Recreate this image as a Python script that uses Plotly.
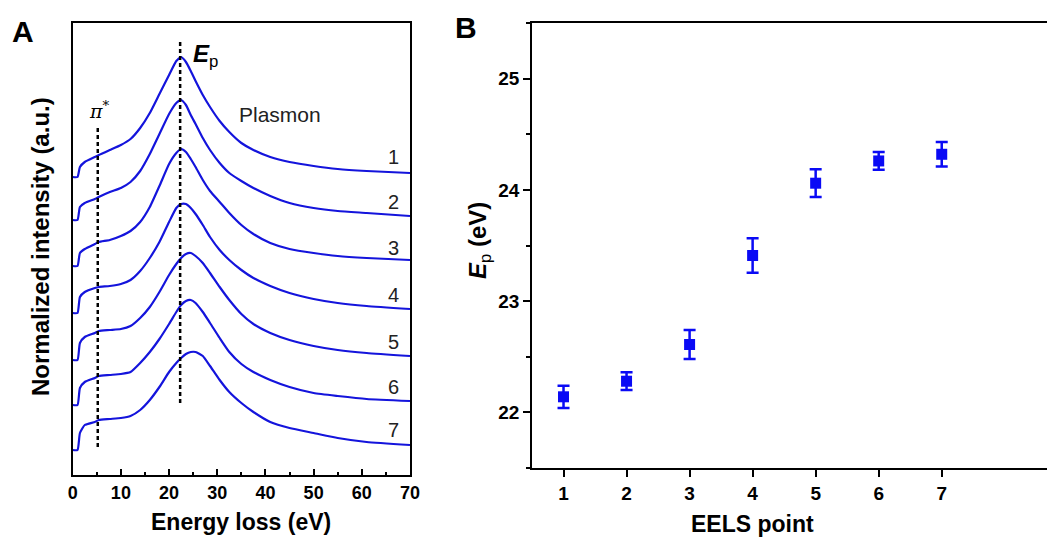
import plotly.graph_objects as go

# ---------------- Panel A data (EELS spectra, offset-stacked, a.u.) ----------------
energy = [0, 1.0, 1.5, 2.5, 4.6, 5.4, 7.7, 10, 12, 14, 16, 18, 20, 21.5, 22.5,
          23.5, 24.5, 25.5, 27, 28.5, 30.5, 32.5, 35, 37.5, 41, 45, 50, 55, 61, 70]
spec1 = [303, 303, 313, 318, 323, 325, 330, 335, 341, 352, 367, 386, 405, 419, 423,
         418, 409, 399, 385, 373, 359, 348, 337, 330, 323, 318, 314, 311, 309, 307]
spec2 = [260, 260, 273, 277, 281, 283, 288, 292, 298, 309, 326, 346, 366, 377, 380,
         375, 365, 356, 342, 330, 317, 307, 299, 292, 284, 277, 272, 269, 267, 264]
spec3 = [214, 214, 227, 231, 236, 238, 240, 244, 249, 258, 273, 294, 316, 327, 331,
         328, 321, 313, 300, 289, 278, 267, 255, 246, 237, 231, 227, 224, 222, 220]
spec4 = [167, 167, 183, 188, 192, 193, 194, 196, 200, 209, 222, 238, 258, 272, 276,
         276, 272, 266, 255, 243, 230, 220, 210, 202, 194, 187, 181, 177, 174, 171]
spec5 = [120, 120, 137, 143, 147, 149, 150, 151, 154, 162, 173, 188, 205, 216, 222,
         226, 227, 224, 217, 207, 193, 180, 166, 156, 147, 140, 134, 130, 127, 124]
spec6 = [75, 75, 92, 98, 102, 104, 105, 106, 108, 117, 128, 141, 156, 168, 175,
         179, 180, 177, 168, 157, 142, 128, 116, 108, 100, 93, 87, 84, 81, 79]
spec7 = [30, 30, 47, 55, 58, 60, 61, 62, 64, 70, 80, 93, 108, 117, 122,
         126, 128, 128, 124, 114, 100, 88, 77, 68, 58, 52, 47, 42, 38, 35]
spectra = [spec1, spec2, spec3, spec4, spec5, spec6, spec7]
spec_labels = ["1", "2", "3", "4", "5", "6", "7"]
label_energy = 66.5
label_levels = [323, 278, 232, 185, 138, 93, 50]

pi_star_energy = 5.2
pi_star_span = [33, 353]
ep_energy = 22.3
ep_span = [77, 440]

xA_ticks = [0, 10, 20, 30, 40, 50, 60, 70]

# ---------------- Panel B data ----------------
eels_point = [1, 2, 3, 4, 5, 6, 7]
ep_values = [22.14, 22.28, 22.61, 23.41, 24.06, 24.26, 24.32]
ep_errors = [0.10, 0.08, 0.13, 0.155, 0.125, 0.08, 0.11]
yB_ticks = [22, 23, 24, 25]

LINE_BLUE = "#1414dc"
MARK_BLUE = "#0a0af5"
FONT = "Liberation Sans, Arial, sans-serif"
W, H = 1047, 540

fig = go.Figure()

for s in spectra:
    fig.add_trace(go.Scatter(x=energy, y=s, mode="lines",
                             line=dict(color=LINE_BLUE, width=2.2, shape="spline", smoothing=0.5),
                             xaxis="x", yaxis="y", showlegend=False, hoverinfo="skip"))

# dashed guide lines
fig.add_trace(go.Scatter(x=[pi_star_energy, pi_star_energy], y=pi_star_span, mode="lines",
                         line=dict(color="black", width=2.5, dash="4px,3px"),
                         xaxis="x", yaxis="y", showlegend=False))
fig.add_trace(go.Scatter(x=[ep_energy, ep_energy], y=ep_span, mode="lines",
                         line=dict(color="black", width=2.5, dash="4px,3px"),
                         xaxis="x", yaxis="y", showlegend=False))

# Panel B
fig.add_trace(go.Scatter(x=eels_point, y=ep_values, mode="markers",
                         marker=dict(symbol="square", size=11, color=MARK_BLUE),
                         error_y=dict(type="data", array=ep_errors, color=MARK_BLUE,
                                      thickness=2.5, width=6),
                         xaxis="x2", yaxis="y2", showlegend=False))

annotations = []
for lab, lv in zip(spec_labels, label_levels):
    annotations.append(dict(x=label_energy, y=lv, xref="x", yref="y", text=lab,
                            showarrow=False, font=dict(family=FONT, size=20, color="#222")))
annotations += [
    dict(x=43, y=366, xref="x", yref="y", text="Plasmon", showarrow=False,
         font=dict(family=FONT, size=21, color="#222")),
    dict(x=5.6, y=370, xref="x", yref="y", text="<i>π</i><sup>*</sup>", showarrow=False,
         font=dict(family="DejaVu Serif, serif", size=19, color="black")),
    dict(x=24.6, y=425, xref="x", yref="y", text="<b><i>E</i></b><sub>p</sub>", showarrow=False,
         xanchor="left", yanchor="middle", font=dict(family=FONT, size=24, color="black")),
    dict(x=241 / W, y=1 - 522 / H, xref="paper", yref="paper", text="<b>Energy loss (eV)</b>",
         xanchor="center", yanchor="middle",
         showarrow=False, font=dict(family=FONT, size=23, color="black")),
    dict(x=40 / W, y=1 - 247 / H, xref="paper", yref="paper",
         text="<b>Normalized intensity (a.u.)</b>", textangle=-90,
         xanchor="center", yanchor="middle",
         showarrow=False, font=dict(family=FONT, size=24, color="black")),
    dict(x=4, y=1 - 524 / H, xref="x2", yref="paper", text="<b>EELS point</b>",
         xanchor="center", yanchor="middle",
         showarrow=False, font=dict(family=FONT, size=23, color="black")),
    dict(x=479 / W, y=1 - 241 / H, xref="paper", yref="paper",
         text="<b><i>E</i></b><sub>p</sub><b> (eV)</b>", textangle=-90,
         xanchor="center", yanchor="middle",
         showarrow=False, font=dict(family=FONT, size=24, color="black")),
    dict(x=23 / W, y=1 - 32 / H, xref="paper", yref="paper", text="<b>A</b>",
         xanchor="center", yanchor="middle",
         showarrow=False, font=dict(family=FONT, size=30, color="black")),
    dict(x=466 / W, y=1 - 27 / H, xref="paper", yref="paper", text="<b>B</b>",
         xanchor="center", yanchor="middle",
         showarrow=False, font=dict(family=FONT, size=30, color="black")),
]

axis_common = dict(showgrid=False, zeroline=False, linecolor="black", linewidth=1.8,
                   tickcolor="black", tickwidth=1.8, automargin=False,
                   tickfont=dict(family=FONT, size=18, color="black"))

fig.update_layout(
    width=W, height=H,
    margin=dict(l=0, r=0, t=0, b=0),
    paper_bgcolor="white", plot_bgcolor="white",
    annotations=annotations,
    xaxis=dict(axis_common, domain=[72.7 / W, 410 / W], range=[0, 70],
               tickmode="array", tickvals=xA_ticks,
               ticktext=[f"<b>{t}</b>" for t in xA_ticks],
               ticks="inside", ticklen=6, mirror=True, showline=True,
               minor=dict(ticks="inside", ticklen=3.5, dtick=5, tickcolor="black", tickwidth=1.5),
               anchor="y"),
    yaxis=dict(axis_common, domain=[1 - 475 / H, 1 - 23 / H], range=[5, 457],
               showticklabels=False, ticks="", mirror=True, showline=True, anchor="x"),
    xaxis2=dict(axis_common, domain=[532 / W, 1.0], range=[0.5, 8.67],
                tickmode="array", tickvals=eels_point,
                ticktext=[f"<b>{t}</b>" for t in eels_point],
                ticks="outside", ticklen=7, mirror=True, showline=True,
                tickfont=dict(family=FONT, size=19, color="black"), anchor="y2"),
    yaxis2=dict(axis_common, domain=[1 - 468 / H, 1 - 23 / H], range=[21.5, 25.5],
                tickmode="array", tickvals=yB_ticks,
                ticktext=[f"<b>{t}</b>" for t in yB_ticks],
                ticks="outside", ticklen=7, showline=True,
                minor=dict(ticks="outside", ticklen=4, dtick=0.5, tickcolor="black", tickwidth=1.5),
                tickfont=dict(family=FONT, size=19, color="black"), anchor="x2"),
)

fig.write_html("out.html", config={"displayModeBar": False},
               post_script="document.body.style.margin='0';")
